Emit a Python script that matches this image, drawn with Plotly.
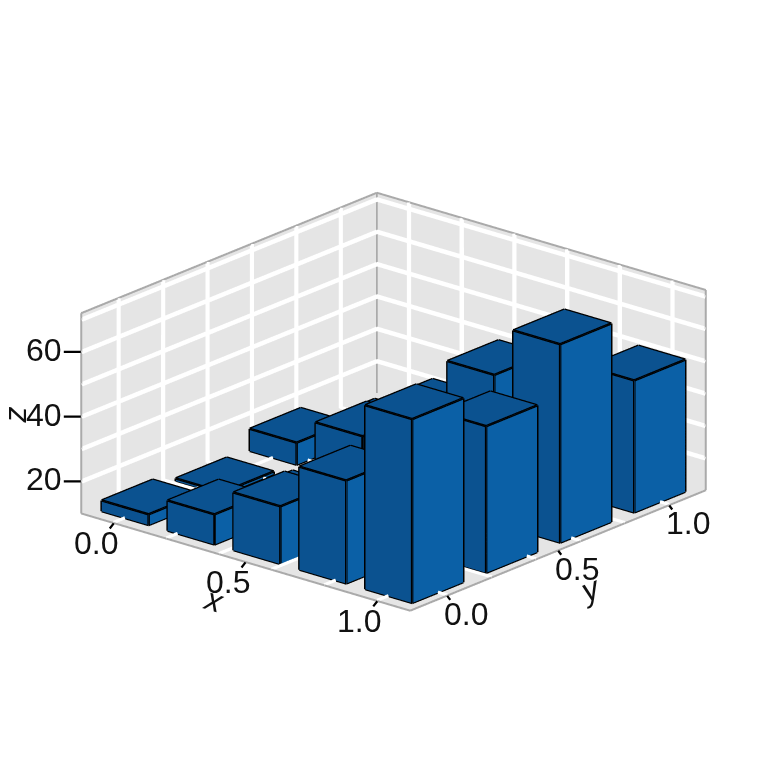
import plotly.graph_objects as go

x_cats = [0.0, 0.25, 0.5, 0.75, 1.0]
y_cats = [0.0, 1/3, 2/3, 1.0]
z_row_0 = [13.5, 19.5, 28, 42, 67]
z_row_1 = [11, 13, 25, 35, 55.5]
z_row_2 = [17, 25, 38, 56, 71.5]
z_row_3 = [10.5, 18, 30, 45, 51]
z_rows = [z_row_0, z_row_1, z_row_2, z_row_3]

x_range = [-0.125, 1.125]
y_range = [-1/6, 7/6]
z_range = [10, 72]
x_grid = [0, 0.2, 0.4, 0.6, 0.8, 1.0]
y_grid = [0, 0.2, 0.4, 0.6, 0.8, 1.0]
z_grid = [20, 30, 40, 50, 60, 70]
x_ticks = [0.0, 0.5, 1.0]
y_ticks = [0.0, 0.5, 1.0]
z_ticks = [20, 40, 60]

BAR_DX = 0.178 / 2
BAR_DY = 0.23 / 2
TOP, FRONT, SIDE = "#0b5290", "#0b5290", "#0b60a6"

vx, vy, vz, ii, jj, kk, fc = [], [], [], [], [], [], []
ex, ey, ez = [], [], []

def add_quad(pts, col):
    n = len(vx)
    for p in pts:
        vx.append(p[0]); vy.append(p[1]); vz.append(p[2])
    ii.extend([n, n]); jj.extend([n + 1, n + 2]); kk.extend([n + 2, n + 3])
    fc.extend([col, col])

def add_edge(a, b):
    ex.extend([a[0], b[0], None]); ey.extend([a[1], b[1], None]); ez.extend([a[2], b[2], None])

for j, yc in enumerate(y_cats):
    for i, xc in enumerate(x_cats):
        h = z_rows[j][i]
        x0, x1 = xc - BAR_DX, xc + BAR_DX
        y0, y1 = yc - BAR_DY, yc + BAR_DY
        b = z_range[0] + 0.15
        add_quad([(x0, y0, h), (x1, y0, h), (x1, y1, h), (x0, y1, h)], TOP)
        add_quad([(x0, y0, b), (x1, y0, b), (x1, y0, h), (x0, y0, h)], FRONT)
        add_quad([(x1, y0, b), (x1, y1, b), (x1, y1, h), (x1, y0, h)], SIDE)
        add_edge((x0, y0, h), (x1, y0, h)); add_edge((x1, y0, h), (x1, y1, h))
        add_edge((x1, y1, h), (x0, y1, h)); add_edge((x0, y1, h), (x0, y0, h))
        add_edge((x0, y0, b), (x1, y0, b)); add_edge((x1, y0, b), (x1, y1, b))
        add_edge((x0, y0, b), (x0, y0, h)); add_edge((x1, y0, b), (x1, y0, h))
        add_edge((x1, y1, b), (x1, y1, h))

xa, xb = x_range; ya, yb = y_range; za, zb = z_range
# spines sit just inside the box; the grid sits a little further in, so it cuts them
SX, SY, SZ = 0.001, 0.001, 0.05
GX, GY, GZ = 0.003, 0.003, 0.1
TX, TY, TZ = 0.0003, 0.0003, 0.01

gx, gy, gz = [], [], []
def grid(a, b):
    gx.extend([a[0], b[0], None]); gy.extend([a[1], b[1], None]); gz.extend([a[2], b[2], None])

for v in y_grid:
    grid((xa + GX, v, za + TZ), (xa + GX, v, zb - TZ)); grid((xa + TX, v, za + GZ), (xb - TX, v, za + GZ))
for v in x_grid:
    grid((v, yb - GY, za + TZ), (v, yb - GY, zb - TZ)); grid((v, ya + TY, za + GZ), (v, yb - TY, za + GZ))
for v in z_grid:
    grid((xa + GX, ya + TY, v), (xa + GX, yb - TY, v)); grid((xa + TX, yb - GY, v), (xb - TX, yb - GY, v))

sx, sy, sz = [], [], []
def spine(a, b):
    sx.extend([a[0], b[0], None]); sy.extend([a[1], b[1], None]); sz.extend([a[2], b[2], None])
xi0, xi1, yi0, yi1, zi0, zi1 = xa + SX, xb - SX, ya + SY, yb - SY, za + SZ, zb - SZ
spine((xi0, yi0, zi0), (xi0, yi0, zi1)); spine((xi0, yi1, zi0), (xi0, yi1, zi1)); spine((xi1, yi1, zi0), (xi1, yi1, zi1))
spine((xi0, yi0, zi1), (xi0, yi1, zi1)); spine((xi0, yi1, zi1), (xi1, yi1, zi1))
spine((xi0, yi0, zi0), (xi1, yi0, zi0)); spine((xi1, yi0, zi0), (xi1, yi1, zi0))

fig = go.Figure()
fig.add_trace(go.Scatter3d(x=sx, y=sy, z=sz, mode="lines", line=dict(color="#aaaaaa", width=4),
                           hoverinfo="skip", showlegend=False))
fig.add_trace(go.Scatter3d(x=gx, y=gy, z=gz, mode="lines", line=dict(color="#ffffff", width=9),
                           hoverinfo="skip", showlegend=False))
fig.add_trace(go.Mesh3d(x=vx, y=vy, z=vz, i=ii, j=jj, k=kk, facecolor=fc, flatshading=True,
                        lighting=dict(ambient=1, diffuse=0, specular=0, fresnel=0, roughness=1),
                        hoverinfo="skip", showscale=False))
fig.add_trace(go.Scatter3d(x=ex, y=ey, z=ez, mode="lines", line=dict(color="#000000", width=5),
                           hoverinfo="skip", showlegend=False))

FONT = dict(family="Liberation Sans, Arial", size=32, color="#111111")

def axis(rng):
    return dict(
        title=dict(text=""), range=rng, showticklabels=False, ticks="",
        showgrid=False, zeroline=False, showline=False, showspikes=False, showaxeslabels=False,
        showbackground=True, backgroundcolor="#e5e5e5",
    )

annotations = []
def tick(x, y, z, ax, ay, label, sx_, sy_):
    annotations.append(dict(x=x, y=y, z=z, text=" ", showarrow=True, arrowhead=0, arrowwidth=2.2,
                            arrowcolor="#000000", ax=ax, ay=ay, standoff=0))
    annotations.append(dict(x=x, y=y, z=z, text=label, showarrow=False, font=FONT, xshift=sx_, yshift=sy_))

for v in x_ticks:
    tick(v, ya, za, -7, 9, "%.1f" % v, -18, -20)
for v in y_ticks:
    tick(xb, v, za, 6, 8, "%.1f" % v, 19, -18)
for v in z_ticks:
    tick(xa, ya, v, -20, 0, "%d" % v, -37, 2)

annotations.append(dict(x=0.5, y=ya, z=za, text="<i>x</i>", showarrow=False, font=FONT, xshift=-32, yshift=-38, textangle=17))
annotations.append(dict(x=xb, y=0.5, z=za, text="<i>y</i>", showarrow=False, font=FONT, xshift=32, yshift=-38, textangle=-22))
annotations.append(dict(x=xa, y=ya, z=40, text="<i>z</i>", showarrow=False, font=FONT, xshift=-66, yshift=2, textangle=-90))

fig.update_layout(
    width=768, height=768, margin=dict(l=0, r=0, t=0, b=0),
    paper_bgcolor="#ffffff", showlegend=False,
    scene=dict(
        domain=dict(x=[0.004, 1], y=[0, 1]),
        xaxis=axis(x_range), yaxis=axis(y_range), zaxis=axis(z_range),
        annotations=annotations,
        aspectmode="manual", aspectratio=dict(x=1.127, y=1.189, z=0.557),
        camera=dict(eye=dict(x=0.9175, y=-1.077, z=0.5505), up=dict(x=0, y=0, z=1),
                    center=dict(x=0, y=0, z=0.027), projection=dict(type="orthographic")),
    ),
)
fig.write_html("out.html")
